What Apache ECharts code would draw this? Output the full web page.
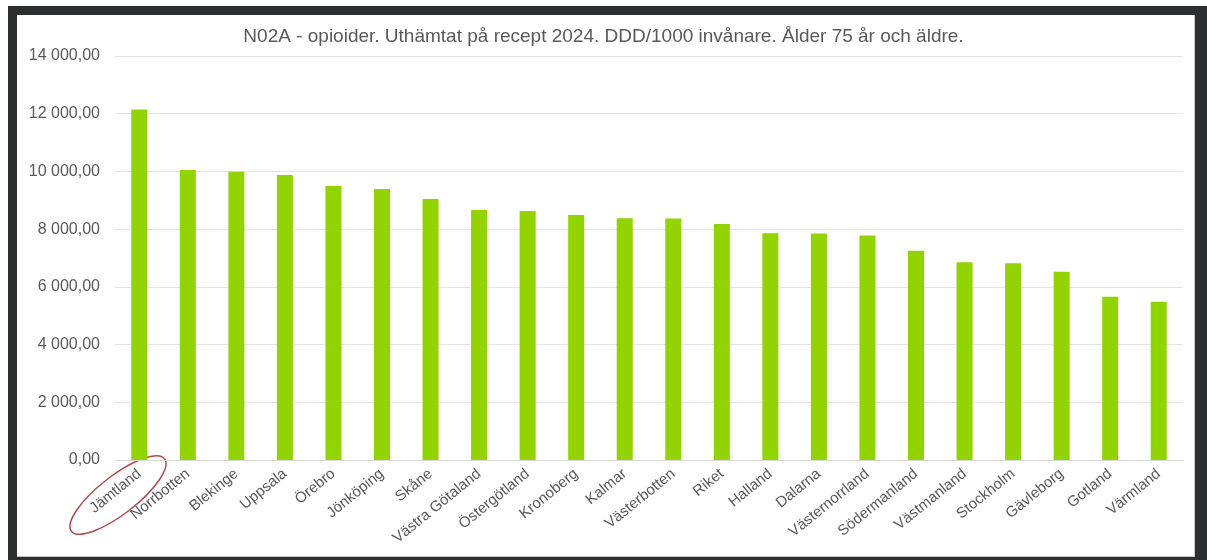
<!DOCTYPE html>
<html>
<head>
<meta charset="utf-8">
<script src="https://cdn.jsdelivr.net/npm/echarts@6/dist/echarts.min.js"></script>
<style>
  html, body { margin: 0; padding: 0; background: #ffffff; }
  body { width: 1207px; height: 560px; position: relative; overflow: hidden; }
  #frame { position: absolute; left: 8px; top: 6px; width: 1199px; height: 554px; background: #2c2e30; }
  #panel { position: absolute; left: 17px; top: 15px; width: 1178px; height: 542px; background: #ffffff; border-right: 1px solid #c8c8c8; border-bottom: 1px solid #c8c8c8; box-sizing: border-box; }
  #chart { position: absolute; left: 0; top: 0; width: 1207px; height: 560px; }
</style>
</head>
<body>
<div id="frame"></div>
<div id="panel"></div>
<div id="chart"></div>
<script>
// Regions (län) and the national total, sorted by dispensed volume
const regions = [
  'Jämtland', 'Norrbotten', 'Blekinge', 'Uppsala', 'Örebro', 'Jönköping', 'Skåne',
  'Västra Götaland', 'Östergötland', 'Kronoberg', 'Kalmar', 'Västerbotten', 'Riket',
  'Halland', 'Dalarna', 'Västernorrland', 'Södermanland', 'Västmanland', 'Stockholm',
  'Gävleborg', 'Gotland', 'Värmland'
];

// DDD per 1000 inhabitants, age 75+
const dddPer1000 = [
  12150, 10050, 9990, 9875, 9495, 9390, 9045,
  8660, 8625, 8490, 8375, 8370, 8180,
  7855, 7850, 7780, 7255, 6850, 6815,
  6525, 5660, 5485
];

const yTicks = { min: 0, max: 14000, step: 2000 };

const titleText = 'N02A - opioider. Uthämtat på recept 2024. DDD/1000 invånare. Ålder 75 år och äldre.';

function formatSv(v) {
  const parts = v.toFixed(2).split('.');
  const intPart = parts[0].replace(/\B(?=(\d{3})+(?!\d))/g, ' ');
  return intPart + ',' + parts[1];
}

const chart = echarts.init(document.getElementById('chart'), null, { renderer: 'canvas' });
const textColor = '#595959';
const fontFamily = '"Liberation Sans", Arial, sans-serif';

chart.setOption({
  backgroundColor: 'transparent',
  animation: false,
  title: {
    text: titleText,
    left: 'center',
    top: 22,
    textStyle: { color: textColor, fontSize: 19, fontWeight: 'normal', fontFamily: fontFamily }
  },
  grid: { left: 115, right: 24, top: 56, bottom: 100, containLabel: false },
  xAxis: {
    type: 'category',
    data: regions,
    axisLine: { show: true, lineStyle: { color: '#d9d9d9', width: 1 } },
    axisTick: { show: false },
    axisLabel: {
      interval: 0,
      rotate: 39,
      margin: 12,
      color: textColor,
      fontSize: 15,
      fontFamily: fontFamily
    }
  },
  yAxis: {
    type: 'value',
    min: yTicks.min,
    max: yTicks.max,
    interval: yTicks.step,
    axisLine: { show: false },
    axisTick: { show: false },
    splitLine: { lineStyle: { color: '#e4e4e4', width: 1 } },
    axisLabel: {
      margin: 15,
      color: textColor,
      fontSize: 16,
      fontFamily: fontFamily,
      formatter: formatSv
    }
  },
  series: [{
    type: 'bar',
    data: dddPer1000,
    barWidth: '33%',
    itemStyle: { color: '#92d400' }
  }],
  graphic: [{
    type: 'ellipse',
    x: 118,
    y: 495,
    rotation: 0.66,
    shape: { cx: 0, cy: 0, rx: 59, ry: 19 },
    style: { fill: 'none', stroke: '#b5484f', lineWidth: 1.5 },
    silent: true
  }]
});
</script>
</body>
</html>
